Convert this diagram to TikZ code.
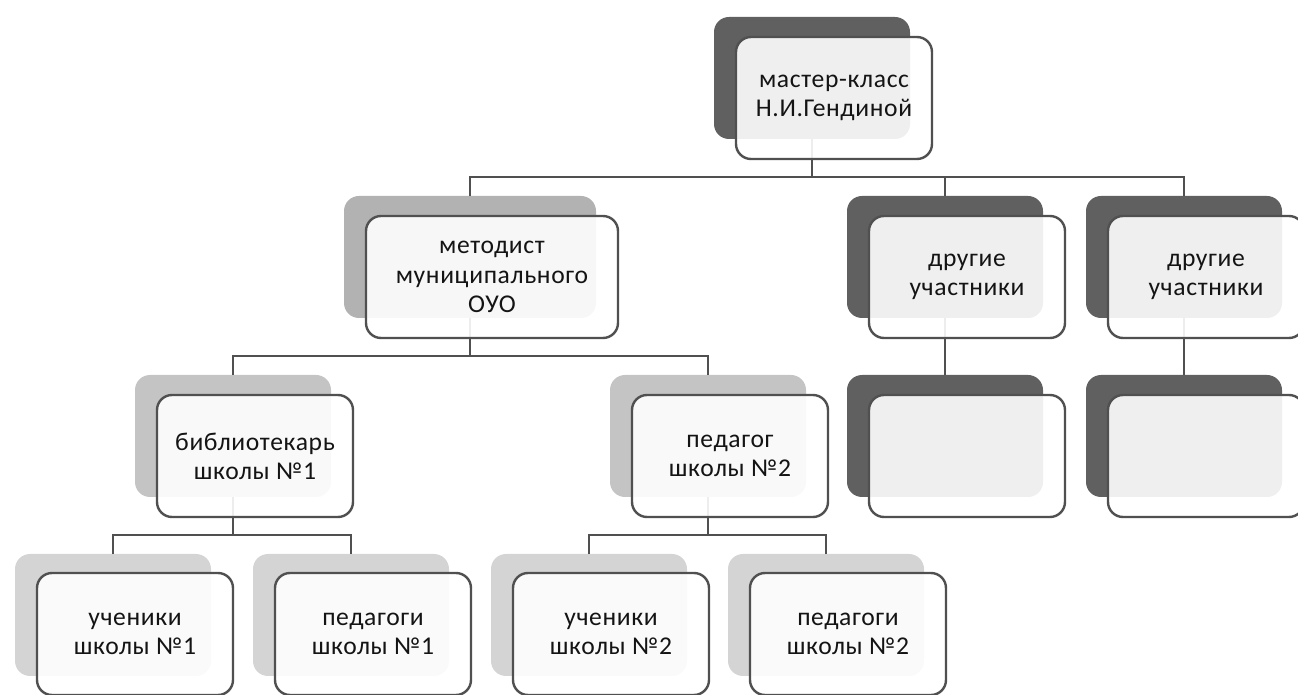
\documentclass[tikz,border=0pt]{standalone}
\usepackage{fontspec}
\setmainfont{Carlito}[LetterSpace=2.5]
\usepackage{tikz}
\usetikzlibrary{positioning,backgrounds}

\definecolor{backdark}{HTML}{606060}
\definecolor{backmid}{HTML}{B2B2B2}
\definecolor{backlight}{HTML}{C4C4C4}
\definecolor{backpale}{HTML}{D4D4D4}
\definecolor{linegray}{HTML}{505050}
\definecolor{textgray}{HTML}{141414}

\begin{document}
\begin{tikzpicture}[x=0.5pt,y=-0.5pt,
	front/.style={rectangle,rounded corners=7.5pt,draw=linegray,line width=1.2pt,fill=white,fill opacity=0.9,text opacity=1,text=textgray,minimum width=98pt,minimum height=61pt,align=center,inner sep=0pt,font=\fontsize{12.8}{14.6}\selectfont},
	back/.style={rectangle,rounded corners=7.5pt,fill=#1,minimum width=98pt,minimum height=61pt},
	link/.style={draw=linegray,line width=1pt}]

	\useasboundingbox (0,0) rectangle (1298,695);

	% front boxes with the texts
	\node[front] (master) at (834,98) {мастер-класс\\Н.И.Гендиной};
	\node[front,minimum width=126pt] (met) at (492,277) {методист\\муниципального\\ОУО};
	\node[front] (drugA) at (967,277) {другие\\участники};
	\node[front] (drugB) at (1206,277) {другие\\участники};
	\node[front] (lib) at (255,456) {библиотекарь\\школы №1};
	\node[front] (ped) at (730,456) {педагог\\школы №2};
	\node[front] (emptyA) at (967,456) {};
	\node[front] (emptyB) at (1206,456) {};
	\node[front] (uchA) at (135,634) {ученики\\школы №1};
	\node[front] (pedgA) at (373,634) {педагоги\\школы №1};
	\node[front] (uchB) at (611,634) {ученики\\школы №2};
	\node[front] (pedgB) at (848,634) {педагоги\\школы №2};

	\begin{pgfonlayer}{background}
		% shadow boxes behind
		\node[back=backdark] (masterB) at ([shift={(-22,-20)}]master.center) {};
		\node[back=backmid,minimum width=126pt] (metB) at ([shift={(-22,-20)}]met.center) {};
		\node[back=backdark] (drugAB) at ([shift={(-22,-20)}]drugA.center) {};
		\node[back=backdark] (drugBB) at ([shift={(-22,-20)}]drugB.center) {};
		\node[back=backlight] (libB) at ([shift={(-22,-20)}]lib.center) {};
		\node[back=backlight] (pedB) at ([shift={(-22,-20)}]ped.center) {};
		\node[back=backdark] (emptyAB) at ([shift={(-22,-20)}]emptyA.center) {};
		\node[back=backdark] (emptyBB) at ([shift={(-22,-20)}]emptyB.center) {};
		\node[back=backpale] (uchAB) at ([shift={(-22,-19)}]uchA.center) {};
		\node[back=backpale] (pedgAB) at ([shift={(-22,-19)}]pedgA.center) {};
		\node[back=backpale] (uchBB) at ([shift={(-22,-19)}]uchB.center) {};
		\node[back=backpale] (pedgBB) at ([shift={(-22,-19)}]pedgB.center) {};

		% connectors
		\draw[link] (masterB.south) -- ++(0,38) -| (metB.north);
		\draw[link] (masterB.south) -- ++(0,38) -| (drugAB.north);
		\draw[link] (masterB.south) -- ++(0,38) -| (drugBB.north);
		\draw[link] (metB.south) -- ++(0,38) -| (libB.north);
		\draw[link] (metB.south) -- ++(0,38) -| (pedB.north);
		\draw[link] (drugAB.south) -- (emptyAB.north);
		\draw[link] (drugBB.south) -- (emptyBB.north);
		\draw[link] (libB.south) -- ++(0,38) -| (uchAB.north);
		\draw[link] (libB.south) -- ++(0,38) -| (pedgAB.north);
		\draw[link] (pedB.south) -- ++(0,38) -| (uchBB.north);
		\draw[link] (pedB.south) -- ++(0,38) -| (pedgBB.north);
	\end{pgfonlayer}
\end{tikzpicture}
\end{document}
